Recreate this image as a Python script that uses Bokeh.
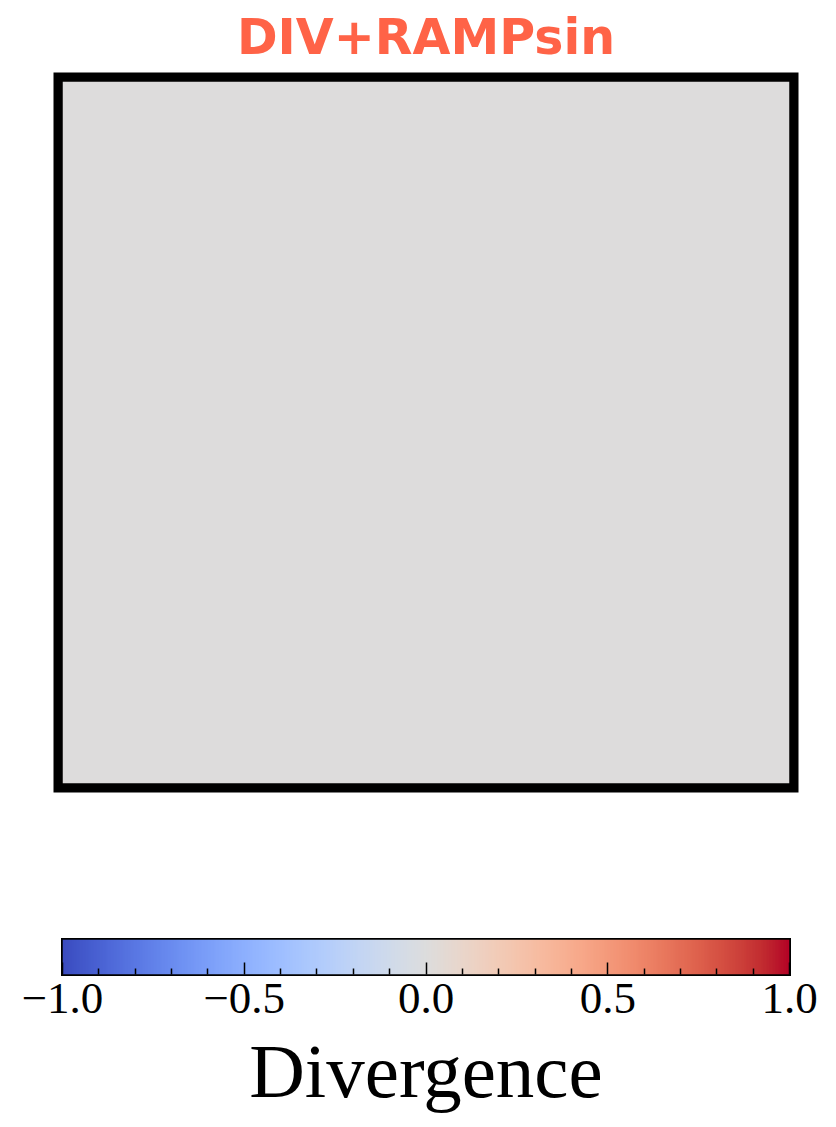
import numpy as np
from bokeh.plotting import figure
from bokeh.layouts import column
from bokeh.models import LinearColorMapper, FixedTicker, Range1d, CustomJSTickFormatter
from bokeh.embed import file_html
from bokeh.resources import INLINE

# ---- data ----
title_text = "DIV+RAMPsin"
field_values = [[0.0]]          # divergence field: uniformly zero
vmin, vmax = -1.0, 1.0
cbar_ticks = [-1.0, -0.5, 0.0, 0.5, 1.0]
cbar_tick_labels = ["\u22121.0", "\u22120.5", "0.0", "0.5", "1.0"]
cbar_minor_ticks = [-0.9, -0.8, -0.7, -0.6, -0.4, -0.3, -0.2, -0.1,
                    0.1, 0.2, 0.3, 0.4, 0.6, 0.7, 0.8, 0.9]
cbar_label = "Divergence"

# ---- coolwarm colormap (Moreland) ----
_cw = [
    (0.0, 0.2298057, 0.298717966, 0.753683153),
    (0.03125, 0.26623388, 0.353094838, 0.801466763),
    (0.0625, 0.30386891, 0.406535296, 0.84495867),
    (0.09375, 0.342804478, 0.458757618, 0.883725899),
    (0.125, 0.38301334, 0.50941904, 0.917387822),
    (0.15625, 0.424369608, 0.558148092, 0.945619588),
    (0.1875, 0.46666708, 0.604562568, 0.968154911),
    (0.21875, 0.509635204, 0.648280772, 0.98478814),
    (0.25, 0.552953156, 0.688929332, 0.995375608),
    (0.28125, 0.596262162, 0.726149107, 0.999836203),
    (0.3125, 0.639176211, 0.759599947, 0.998151185),
    (0.34375, 0.681291281, 0.788964712, 0.990363227),
    (0.375, 0.722193294, 0.813952739, 0.976574709),
    (0.40625, 0.761464949, 0.834302879, 0.956945269),
    (0.4375, 0.798691636, 0.849786142, 0.931688648),
    (0.46875, 0.833466556, 0.860207984, 0.901068838),
    (0.5, 0.865395197, 0.86541021, 0.865395561),
    (0.53125, 0.897787179, 0.848937047, 0.820880546),
    (0.5625, 0.924127593, 0.827384882, 0.774508472),
    (0.59375, 0.944468518, 0.800927443, 0.726736146),
    (0.625, 0.958852946, 0.769767752, 0.678007945),
    (0.65625, 0.96732803, 0.734132809, 0.628751763),
    (0.6875, 0.969954137, 0.694266682, 0.579375448),
    (0.71875, 0.966811177, 0.650421156, 0.530263762),
    (0.75, 0.958003065, 0.602842431, 0.481775914),
    (0.78125, 0.943660866, 0.551750968, 0.434243684),
    (0.8125, 0.923944917, 0.49730856, 0.387970225),
    (0.84375, 0.89904617, 0.439559467, 0.343229596),
    (0.875, 0.869186849, 0.378313092, 0.300267182),
    (0.90625, 0.834620542, 0.312874446, 0.259301199),
    (0.9375, 0.795631745, 0.24128379, 0.220525627),
    (0.96875, 0.752534934, 0.157246067, 0.184115123),
    (1.0, 0.705673158, 0.01555616, 0.150232812),
]
_a = np.array(_cw)
_t = np.linspace(0, 1, 256)
_r = np.interp(_t, _a[:, 0], _a[:, 1])
_g = np.interp(_t, _a[:, 0], _a[:, 2])
_b = np.interp(_t, _a[:, 0], _a[:, 3])
palette = ["#%02x%02x%02x" % (int(round(r * 255)), int(round(g * 255)), int(round(b * 255)))
           for r, g, b in zip(_r, _g, _b)]
mapper = LinearColorMapper(palette=palette, low=vmin, high=vmax)

# ---- main panel ----
p = figure(width=836, height=800, x_range=Range1d(0, 1), y_range=Range1d(0, 1),
           output_backend="svg", toolbar_location=None,
           x_axis_location="above", y_axis_location=None,
           min_border_left=62, min_border_right=47, min_border_top=81, min_border_bottom=17)
p.title.visible = False
p.image(image=[np.array(field_values)], x=0, y=0, dw=1, dh=1, color_mapper=mapper)
p.outline_line_color = "black"
p.outline_line_width = 18
p.outline_line_join = "miter"
p.outline_line_alpha = 1.0
for g in p.grid:
    g.visible = False
# title drawn as the label of a bare top axis, so it sits a fixed distance above the frame
ta = p.xaxis[0]
ta.ticker = FixedTicker(ticks=[])
ta.axis_line_color = None
ta.major_tick_in = 0
ta.major_tick_out = 0
ta.minor_tick_in = 0
ta.minor_tick_out = 0
ta.major_label_standoff = 0
ta.axis_label = title_text
ta.axis_label_text_font = "DejaVu Sans"
ta.axis_label_text_font_style = "bold"
ta.axis_label_text_font_size = "49px"
ta.axis_label_text_color = "#ff6347"
ta.axis_label_standoff = 16

# ---- colorbar panel ----
c = figure(width=836, height=327, x_range=Range1d(vmin, vmax), y_range=Range1d(0, 1),
           output_backend="svg", toolbar_location=None, y_axis_location=None,
           min_border_left=58, min_border_right=42, min_border_top=139, min_border_bottom=153)
grad = np.linspace(vmin, vmax, 512).reshape(1, -1)
c.image(image=[grad], x=vmin, y=0, dw=vmax - vmin, dh=1, color_mapper=mapper)
c.outline_line_color = "black"
c.outline_line_width = 3
c.outline_line_join = "miter"
c.outline_line_alpha = 1.0
for g in c.grid:
    g.visible = False
ax = c.xaxis[0]
ax.ticker = FixedTicker(ticks=cbar_ticks, minor_ticks=cbar_minor_ticks)
ax.formatter = CustomJSTickFormatter(args=dict(tvals=cbar_ticks, tlabels=cbar_tick_labels), code="""
    for (let i = 0; i < tvals.length; i++) {
        if (Math.abs(tvals[i] - tick) < 1e-9) { return tlabels[i]; }
    }
    return "";
""")
ax.axis_line_color = None
ax.major_tick_in = 12
ax.major_tick_out = 0
ax.minor_tick_in = 6
ax.minor_tick_out = 0
ax.major_tick_line_color = "black"
ax.minor_tick_line_color = "black"
ax.major_tick_line_width = 1.5
ax.minor_tick_line_width = 1.5
ax.major_label_text_font = "Liberation Serif"
ax.major_label_text_font_size = "45px"
ax.major_label_text_color = "black"
ax.major_label_standoff = 9
ax.axis_label = cbar_label
ax.axis_label_text_font = "Liberation Serif"
ax.axis_label_text_font_style = "normal"
ax.axis_label_text_font_size = "77px"
ax.axis_label_text_color = "black"
ax.axis_label_standoff = 12

layout = column(p, c, spacing=0)
open("out.html", "w").write(file_html(layout, INLINE))
